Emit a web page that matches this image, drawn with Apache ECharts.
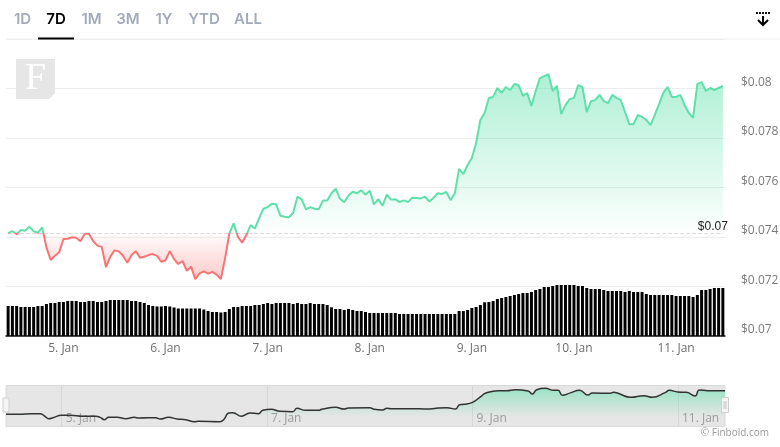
<!DOCTYPE html>
<html>
<head>
<meta charset="utf-8">
<title>Finbold 7D</title>
<script src="https://cdn.jsdelivr.net/npm/echarts@6/dist/echarts.min.js"></script>
<style>
	html, body { margin: 0; padding: 0; background: #fff; }
	#chart { width: 780px; height: 447px; }
</style>
</head>
<body>
<div id="chart"></div>
<script>
// hourly close
var priceValues = [
	0.07416,0.07424,0.07411,0.07428,0.07425,0.07442,0.07423,0.07417,0.07439,0.07358,
	0.07307,0.07324,0.07338,0.07392,0.07393,0.07399,0.07397,0.07383,0.07413,0.07413,
	0.07383,0.07365,0.0736,0.07278,0.0732,0.07346,0.07342,0.07324,0.07296,0.07326,
	0.07343,0.07316,0.0732,0.07327,0.07331,0.07324,0.073,0.07306,0.07343,0.07311,
	0.07291,0.07303,0.07263,0.0728,0.0723,0.07253,0.07261,0.07252,0.07259,0.07248,
	0.0723,0.07314,0.07415,0.07455,0.07401,0.07377,0.07408,0.07448,0.07434,0.07476,
	0.07514,0.07521,0.07534,0.07532,0.07486,0.07482,0.0748,0.07498,0.07563,0.07552,
	0.07512,0.07521,0.07514,0.07512,0.07547,0.07547,0.07577,0.07595,0.07555,0.0754,
	0.07568,0.07583,0.07577,0.07589,0.07571,0.07587,0.07532,0.07553,0.07526,0.07571,
	0.07551,0.07553,0.07541,0.07548,0.07541,0.07559,0.07558,0.07556,0.07563,0.07543,
	0.07559,0.07577,0.07574,0.07582,0.07549,0.07577,0.07675,0.07654,0.07691,0.07719,
	0.0778,0.07873,0.07901,0.07962,0.07966,0.08002,0.07982,0.08006,0.07994,0.08018,
	0.08014,0.0797,0.07982,0.07929,0.0799,0.08042,0.0805,0.08058,0.0799,0.0801,
	0.07897,0.07933,0.07957,0.07962,0.08014,0.08006,0.07905,0.07949,0.07953,0.07974,
	0.07949,0.07941,0.07974,0.07962,0.07953,0.07905,0.07856,0.07856,0.07893,0.07885,
	0.07873,0.07852,0.07893,0.07937,0.07982,0.08006,0.07966,0.07966,0.07974,0.07933,
	0.07901,0.07881,0.08018,0.08026,0.0799,0.08002,0.07994,0.08002,0.0801
];
// hourly volume, millions (estimated, the chart has no volume scale)
var volumeValues = [
	30,30,30,29,29,29,29,30,30,32,
	33,33,34,34,35,35,35,34,34,35,
	35,34,34,35,36,36,36,36,36,35,
	35,34,33,31,30,29.5,29.5,30,29.5,28.5,
	27.5,27.5,27.5,27.5,27.5,27.5,26.5,25,24,24,
	23.5,24,27,29,29,30,30,30,31,31,
	32,33,32,33,33,33,33,32,33,32,
	32,33,32,32,32,31,28.7,27,27,26,
	27,26,25,25,24,23,23,23,23,23,
	23,23,22,22,22,22,22,22,22,22,
	22,22,22,22,22,22,25,25,26,28,
	29,31,33.7,34,35,37,38,39,40,41,
	42,43,43,44,46,47,49,49,50,51,
	51,51,51,51,50,50,48,47,47,47,
	46,45,45,45,45,44,45,44,44,44,
	42,41,41,41,41,41,41,40,40,40,
	40,39,41,46,46,47,48,48,48
];
// the navigator line is coarser than the main one, read separately
var navHours = [
	0,3,6,8,9,10,11,13,15,18,21,22,23,24,26,28,30,31,35,36,
	38,40,42,44,45,50,51,52,53,55,57,59,60,62,64,67,68,70,73,74,
	77,79,80,85,86,88,89,90,94,99,101,103,105,106,107,109,111,112,115,117,
	119,122,123,124,126,128,129,130,132,134,136,137,141,142,143,146,149,151,154,155,
	157,159,161,162,164,168
];
var navValues = [
	0.07411,0.07411,0.07427,0.07427,0.07371,0.07307,0.07331,0.07387,0.07387,0.07363,
	0.07363,0.07339,0.07283,0.07339,0.07339,0.07307,0.07339,0.07323,0.07331,0.07299,
	0.07339,0.07299,0.07283,0.07235,0.07243,0.07235,0.07299,0.07443,0.0745,0.07363,
	0.07443,0.07427,0.07506,0.0753,0.07482,0.07474,0.07554,0.07506,0.07506,0.07538,
	0.07578,0.07538,0.07562,0.0757,0.0753,0.07514,0.07554,0.07546,0.07546,0.07538,
	0.07562,0.0757,0.07538,0.07642,0.0765,0.07698,0.07841,0.07913,0.07976,0.07976,
	0.08,0.07968,0.07897,0.08,0.08032,0.07984,0.07984,0.07865,0.07929,0.07984,
	0.07873,0.07921,0.07913,0.07937,0.07913,0.07817,0.07857,0.07817,0.07929,0.07984,
	0.07945,0.07937,0.07849,0.07992,0.07976,0.07976
];
var dayLabels = ['5. Jan','6. Jan','7. Jan','8. Jan','9. Jan','10. Jan','11. Jan'];
var navLabels = ['5. Jan','7. Jan','9. Jan','11. Jan'];
var rangeTabs = ['1D','7D','1M','3M','1Y','YTD','ALL'];
var rangeTabX = [22.5,56,91.5,128,164,204,248];
var baseValue = 0.07416;
var baseLabel = '$0.07';

var GREEN = '#5fe0ab';
var RED = '#f97474';
var FONT = '"Open Sans", sans-serif';

// first full day starts 13 hours into the series
var firstMidnight = 13;

function hourCategories(labels, step){
	var out = [];
	for(var i = 0; i < priceValues.length; i++){
		var k = (i - firstMidnight) / step;
		out.push(k >= 0 && k === Math.floor(k) && labels[k] ? labels[k] : '');
	}
	return out;
}
var mainCategories = hourCategories(dayLabels, 24);
var navCategories = hourCategories(navLabels, 48);

function hasLabel(index, value){
	return value !== '';
}

function getNavData(){
	var out = [];
	for(var i = 0; i < navHours.length; i++){
		out.push([navHours[i], navValues[i]]);
	}
	return out;
}

function getGraphics(){
	var items = [];
	// range tabs
	for(var i = 0; i < rangeTabs.length; i++){
		items.push({
			type: 'text', x: rangeTabX[i], y: 19, z: 10,
			style: {
				text: rangeTabs[i], align: 'center', verticalAlign: 'middle',
				font: '600 15px Inter, sans-serif',
				fill: rangeTabs[i] === '7D' ? '#000' : '#a3abb9'
			}
		});
	}
	items.push({ type: 'line', z: 9, shape: { x1: 6, y1: 39, x2: 780, y2: 39 }, style: { stroke: '#f0f0f0', lineWidth: 1 } });
	items.push({ type: 'line', z: 10, shape: { x1: 38, y1: 38.5, x2: 74, y2: 38.5 }, style: { stroke: '#000', lineWidth: 2 } });
	// download icon
	items.push({ type: 'line', z: 10, shape: { x1: 756, y1: 13, x2: 770, y2: 13 }, style: { stroke: '#111', lineWidth: 2, lineDash: [2, 1] } });
	items.push({ type: 'line', z: 10, shape: { x1: 763, y1: 16, x2: 763, y2: 24 }, style: { stroke: '#000', lineWidth: 2 } });
	items.push({ type: 'polyline', z: 10, shape: { points: [[758, 20], [763, 25], [768, 20]] }, style: { stroke: '#000', lineWidth: 2, fill: null } });
	// watermark
	items.push({
		type: 'polygon', z: 8,
		shape: { points: [[16, 59], [55, 59], [55, 93], [49, 99], [16, 99]] },
		style: { fill: '#e6e6e6' }
	});
	items.push({
		type: 'text', x: 35.5, y: 79, z: 9,
		style: { text: 'F', align: 'center', verticalAlign: 'middle', font: '38px "Liberation Serif", serif', fill: '#fff' }
	});
	// navigator handles
	items.push({ type: 'rect', z: 10, shape: { x: 3, y: 398, width: 6, height: 14 }, style: { fill: '#f5f5f5', stroke: '#cfcfcf', lineWidth: 1 } });
	items.push({ type: 'rect', z: 10, shape: { x: 721.5, y: 397.5, width: 7, height: 15 }, style: { fill: '#f5f5f5', stroke: '#cfcfcf', lineWidth: 1 } });
	items.push({ type: 'line', z: 11, shape: { x1: 724, y1: 401, x2: 724, y2: 409 }, style: { stroke: '#c4c4c4', lineWidth: 1 } });
	items.push({ type: 'line', z: 11, shape: { x1: 726, y1: 401, x2: 726, y2: 409 }, style: { stroke: '#c4c4c4', lineWidth: 1 } });
	// credit
	items.push({
		type: 'text', x: 769, y: 433, z: 10,
		style: { text: '\u00a9 Finbold.com', align: 'right', verticalAlign: 'middle', font: '10px ' + FONT, fill: '#9a9a9a' }
	});
	return items;
}

var chart = echarts.init(document.getElementById('chart'));
chart.setOption({
	animation: false,
	backgroundColor: '#fff',
	grid: [
		{ left: 6, top: 39, width: 719, height: 297, outerBoundsMode: 'none' },
		{ left: 6, top: 385.5, width: 719, height: 41, outerBoundsMode: 'none', show: true, backgroundColor: '#e6e6e6', borderColor: '#dadada', borderWidth: 1 }
	],
	xAxis: [
		{
			type: 'category', gridIndex: 0, data: mainCategories,
			axisLine: { lineStyle: { color: '#111', width: 1.5 } },
			axisTick: { show: false },
			splitLine: { show: false },
			axisLabel: { interval: hasLabel, color: '#6e6e6e', fontFamily: FONT, fontSize: 12, margin: 7 }
		},
		{
			type: 'category', gridIndex: 1, data: navCategories, boundaryGap: false,
			axisLine: { show: false },
			axisTick: { show: false },
			splitLine: { show: true, interval: hasLabel, lineStyle: { color: '#d6d6d6', width: 1 } },
			axisLabel: { inside: true, interval: hasLabel, align: 'left', padding: [0, 0, 0, 4], color: '#9a9a9a', fontFamily: FONT, fontSize: 12, margin: 2 }
		}
	],
	yAxis: [
		{
			type: 'value', gridIndex: 0, position: 'right', min: 0.07, max: 0.082, interval: 0.002,
			axisLine: { show: false },
			axisTick: { show: false },
			splitLine: { lineStyle: { color: '#ececec', width: 1 } },
			axisLabel: {
				showMaxLabel: false, verticalAlign: 'bottom', lineHeight: 12, align: 'left', margin: 16,
				color: '#7a7a7a', fontFamily: FONT, fontSize: 12,
				formatter: function(v){ return '$' + (+v.toFixed(3)); }
			}
		},
		{
			type: 'value', gridIndex: 0, min: 0, max: 297, show: false, splitLine: { show: false }
		},
		{
			type: 'value', gridIndex: 1, min: 0.0712, max: 0.081, show: false, splitLine: { show: false }
		}
	],
	visualMap: {
		show: false, seriesIndex: 1, dimension: 1,
		pieces: [
			{ gt: 0.07, lte: baseValue, color: RED },
			{ gt: baseValue, lte: 0.082, color: GREEN }
		]
	},
	series: [
		{
			name: 'Volume', type: 'bar', xAxisIndex: 0, yAxisIndex: 1, data: volumeValues,
			barCategoryGap: '30%', itemStyle: { color: '#000' }, silent: true
		},
		{
			name: 'Price', type: 'line', xAxisIndex: 0, yAxisIndex: 0, data: priceValues,
			showSymbol: false, smooth: false, lineStyle: { width: 2 }, z: 5,
			areaStyle: {
				origin: baseValue,
				opacity: 1,
				color: {
					type: 'linear', x: 0, y: 0, x2: 0, y2: 1,
					colorStops: [
						{ offset: 0, color: 'rgba(95,224,171,0.5)' },
						{ offset: 0.77, color: 'rgba(95,224,171,0.02)' },
						{ offset: 0.78, color: 'rgba(249,116,116,0.02)' },
						{ offset: 1, color: 'rgba(249,116,116,0.38)' }
					]
				}
			},
			markLine: {
				silent: true, symbol: 'none',
				lineStyle: { color: '#dcdcdc', type: 'dashed', width: 1 },
				label: {
					position: 'insideEndTop', formatter: baseLabel, distance: [-5, 0],
					color: '#222', fontFamily: '"Liberation Sans", sans-serif', fontSize: 12
				},
				data: [[{ coord: [0, baseValue] }, { coord: [priceValues.length - 1, baseValue] }]]
			}
		},
		{
			name: 'Navigator', type: 'line', xAxisIndex: 1, yAxisIndex: 2, data: getNavData(),
			showSymbol: false, smooth: true, lineStyle: { color: '#333', width: 1.5 }, z: 5,
			areaStyle: {
				origin: 'start',
				opacity: 1,
				color: {
					type: 'linear', x: 0, y: 0, x2: 0, y2: 1,
					colorStops: [
						{ offset: 0, color: 'rgba(95,224,171,0.55)' },
						{ offset: 0.75, color: 'rgba(95,224,171,0)' }
					]
				}
			}
		}
	],
	graphic: getGraphics()
});
</script>
</body>
</html>
